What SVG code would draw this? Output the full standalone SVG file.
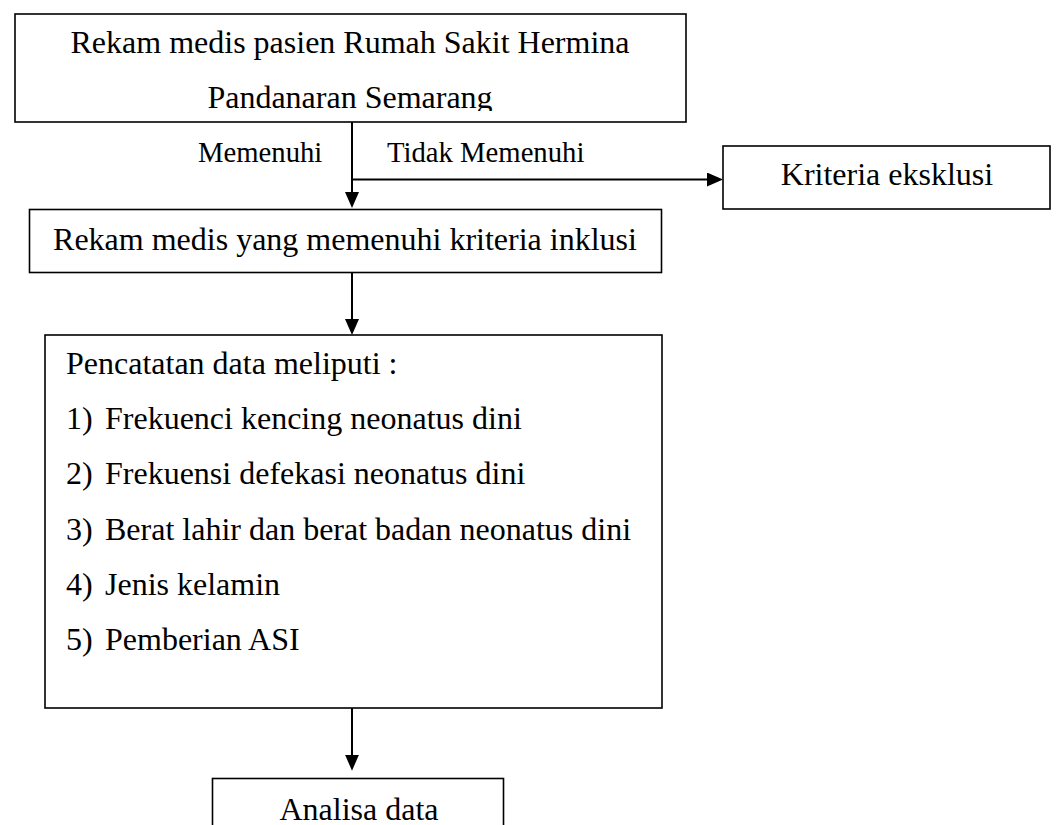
<svg xmlns="http://www.w3.org/2000/svg" width="1056" height="825" viewBox="0 0 1056 825">
  <style>
    .box { fill: #ffffff; stroke: #000000; stroke-width: 1.6; }
    .t { font-family: "Liberation Serif", "Times New Roman", serif; font-size: 32px; fill: #000000; }
    .lbl { font-family: "Liberation Serif", "Times New Roman", serif; font-size: 28.7px; fill: #000000; }
    .c { text-anchor: middle; }
    .conn { fill: none; stroke: #000000; stroke-width: 2; marker-end: url(#arr); }
  </style>
  <defs>
    <marker id="arr" markerUnits="userSpaceOnUse" markerWidth="16" markerHeight="14" refX="8" refY="7" orient="auto" viewBox="0 0 16 14">
      <path d="M0,0 L16,7 L0,14 Z" fill="#000000"/>
    </marker>
    <clipPath id="clip1">
      <rect x="15" y="14" width="671" height="97"/>
    </clipPath>
  </defs>
  <rect x="0" y="0" width="1056" height="825" fill="#ffffff"/>

  <g id="node-rekam-medis">
    <rect class="box" x="15" y="14" width="671" height="108"/>
    <text class="t c" x="350" y="53">Rekam medis pasien Rumah Sakit Hermina</text>
    <text class="t c" x="350" y="108" clip-path="url(#clip1)">Pandanaran Semarang</text>
  </g>

  <g id="node-kriteria-eksklusi">
    <rect class="box" x="723" y="146" width="327" height="63"/>
    <text class="t c" x="887" y="185">Kriteria eksklusi</text>
  </g>

  <g id="node-inklusi">
    <rect class="box" x="29.5" y="209.5" width="632" height="63"/>
    <text class="t c" x="345" y="250">Rekam medis yang memenuhi kriteria inklusi</text>
  </g>

  <g id="node-pencatatan">
    <rect class="box" x="45" y="335" width="617" height="373"/>
    <text class="t" x="66" y="373.5">Pencatatan data meliputi :</text>
    <text class="t" x="66" y="429">1)</text>
    <text class="t" x="105" y="429">Frekuenci kencing neonatus dini</text>
    <text class="t" x="66" y="484.3">2)</text>
    <text class="t" x="105" y="484.3">Frekuensi defekasi neonatus dini</text>
    <text class="t" x="66" y="539.6">3)</text>
    <text class="t" x="105" y="539.6">Berat lahir dan berat badan neonatus dini</text>
    <text class="t" x="66" y="595">4)</text>
    <text class="t" x="105" y="595">Jenis kelamin</text>
    <text class="t" x="66" y="650.3">5)</text>
    <text class="t" x="105" y="650.3">Pemberian ASI</text>
  </g>

  <g id="node-analisa">
    <rect class="box" x="212.5" y="778.5" width="291" height="70"/>
    <text class="t c" x="359" y="820">Analisa data</text>
  </g>

  <g id="connectors">
    <path class="conn" d="M352,122 L352,200"/>
    <path class="conn" d="M352,179.5 L715,179.5"/>
    <path class="conn" d="M352,272.5 L352,327"/>
    <path class="conn" d="M352,708 L352,762.7"/>
    <text class="lbl" x="198" y="162">Memenuhi</text>
    <text class="lbl" x="387" y="162">Tidak Memenuhi</text>
  </g>
</svg>
